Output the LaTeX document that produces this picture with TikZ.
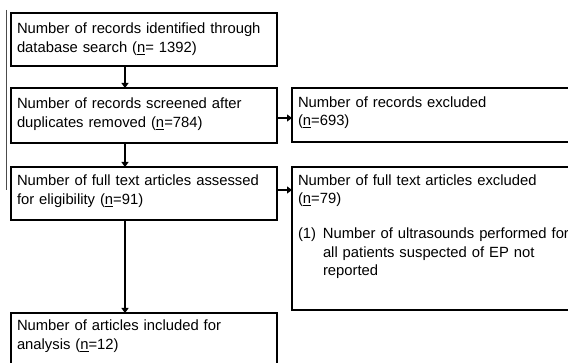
\documentclass[tikz,border=0pt]{standalone}
\usepackage{fontspec}
\setmainfont{Liberation Sans}
\usetikzlibrary{arrows.meta}
\newcommand\nun{\underline{n}}
\begin{document}
\begin{tikzpicture}[x=1pt,y=-1pt,
  box/.style={draw, line width=1.8pt, anchor=north west, outer sep=0pt,
    inner xsep=6pt, inner ysep=0pt, align=left,
    font=\fontsize{14.8}{18.4}\selectfont},
  arr/.style={line width=1.6pt, -{Triangle[length=5pt,width=7pt]}}]
\useasboundingbox (0,0) rectangle (568,363);
\clip (0,0) rectangle (568,363);
\fill[white] (0,0) rectangle (568,363);
\draw[line width=0.8pt, black!70] (6,10) -- (6,190);
\node[box, text width=254pt, text height=21pt, text depth=32pt] (b1) at (11,13)
  {Number of records identified through\\database search (\nun= 1392)};
\node[box, text width=254pt, text height=21pt, text depth=34pt] (b2) at (11,88)
  {Number of records screened after\\duplicates removed (\nun=784)};
\node[box, text width=254pt, text height=19pt, text depth=34pt] (b3) at (11,167)
  {Number of full text articles assessed\\for eligibility (\nun=91)};
\node[box, text width=254pt, text height=18pt, text depth=42pt] (b4) at (11,313)
  {Number of articles included for\\analysis (\nun=12)};
\node[box, text width=300pt, text height=19.5pt, text depth=34.5pt] (r1) at (292,88)
  {Number of records excluded\\(\nun=693)};
\node[box, text width=300pt, text height=18.6pt, text depth=124.4pt] (r2) at (292,167)
  {Number of full text articles excluded\\(\nun=79)\\[16.5pt]
   \makebox[25pt][l]{(1)}Number of ultrasounds performed for\\
   \hspace*{25pt}all patients suspected of EP not\\
   \hspace*{25pt}reported};
\coordinate (ax) at (125,0);
\coordinate (h1) at (0,118);
\coordinate (h2) at (0,190);
\draw[arr] (b1.south -| ax) -- (b2.north -| ax);
\draw[arr] (b2.south -| ax) -- (b3.north -| ax);
\draw[arr] (b3.south -| ax) -- (b4.north -| ax);
\draw[arr] (b2.east |- h1) -- (r1.west |- h1);
\draw[arr] (b3.east |- h2) -- (r2.west |- h2);
\end{tikzpicture}
\end{document}
